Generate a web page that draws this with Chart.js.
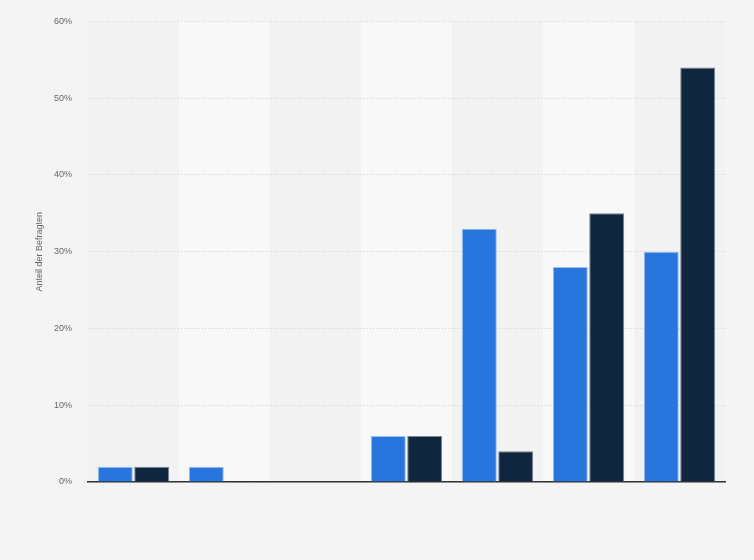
<!DOCTYPE html>
<html>
<head>
<meta charset="utf-8">
<script src="https://cdn.jsdelivr.net/npm/chart.js@4"></script>
<style>
html,body{margin:0;padding:0;background:#f4f4f4;}
#wrap{width:754px;height:560px;}
</style>
</head>
<body>
<div id="wrap"><canvas id="c" width="754" height="560"></canvas></div>
<script>
const categories = ["1", "2", "3", "4", "5", "6", "7"];
const seriesA = [2, 2, 0, 6, 33, 28, 30];
const seriesB = [2, 0, 0, 6, 4, 35, 54];
const yTicks = [0, 10, 20, 30, 40, 50, 60];

const bandPlugin = {
  id: 'bands',
  beforeDraw(chart) {
    const {ctx, chartArea, scales} = chart;
    const x = scales.x;
    ctx.save();
    ctx.fillStyle = '#f4f4f4';
    ctx.fillRect(0, 0, chart.width, chart.height);
    for (let i = 0; i < categories.length; i++) {
      const c = x.getPixelForValue(i);
      const half = (x.getPixelForValue(1) - x.getPixelForValue(0)) / 2;
      ctx.fillStyle = i % 2 === 0 ? '#f2f2f2' : '#f8f8f8';
      ctx.fillRect(c - half, chartArea.top, half * 2, chartArea.bottom - chartArea.top);
    }
    ctx.restore();
  }
};

new Chart(document.getElementById('c'), {
  type: 'bar',
  data: {
    labels: categories,
    datasets: [
      {data: seriesA, backgroundColor: '#2876dd', borderColor: 'rgba(140,185,240,0.9)', borderWidth: 1,
       categoryPercentage: 0.8, barPercentage: 0.96},
      {data: seriesB, backgroundColor: '#0f263e', borderColor: 'rgba(110,120,135,0.9)', borderWidth: 1,
       categoryPercentage: 0.8, barPercentage: 0.96}
    ]
  },
  options: {
    responsive: false,
    animation: false,
    layout: {padding: {left: 30, right: 29, top: 15, bottom: 70}},
    plugins: {legend: {display: false}, tooltip: {enabled: false}},
    scales: {
      x: {
        ticks: {display: false},
        grid: {display: false},
        border: {display: true, color: '#333', width: 1.5}
      },
      y: {
        min: 0, max: 60,
        afterFit(s) { s.width = 58; },
        afterBuildTicks(s) { s.ticks = yTicks.map(v => ({value: v})); },
        ticks: {
          callback: v => v + '%',
          color: '#666',
          padding: 16,
          font: {family: 'Liberation Sans, Arial, sans-serif', size: 9}
        },
        grid: {color: '#d0d0d0', drawTicks: false, lineWidth: 1},
        border: {display: false, dash: [1, 2]},
        title: {
          display: true,
          text: 'Anteil der Befragten',
          color: '#666',
          font: {family: 'Liberation Sans, Arial, sans-serif', size: 9}
        }
      }
    }
  },
  plugins: [bandPlugin]
});
</script>
</body>
</html>
